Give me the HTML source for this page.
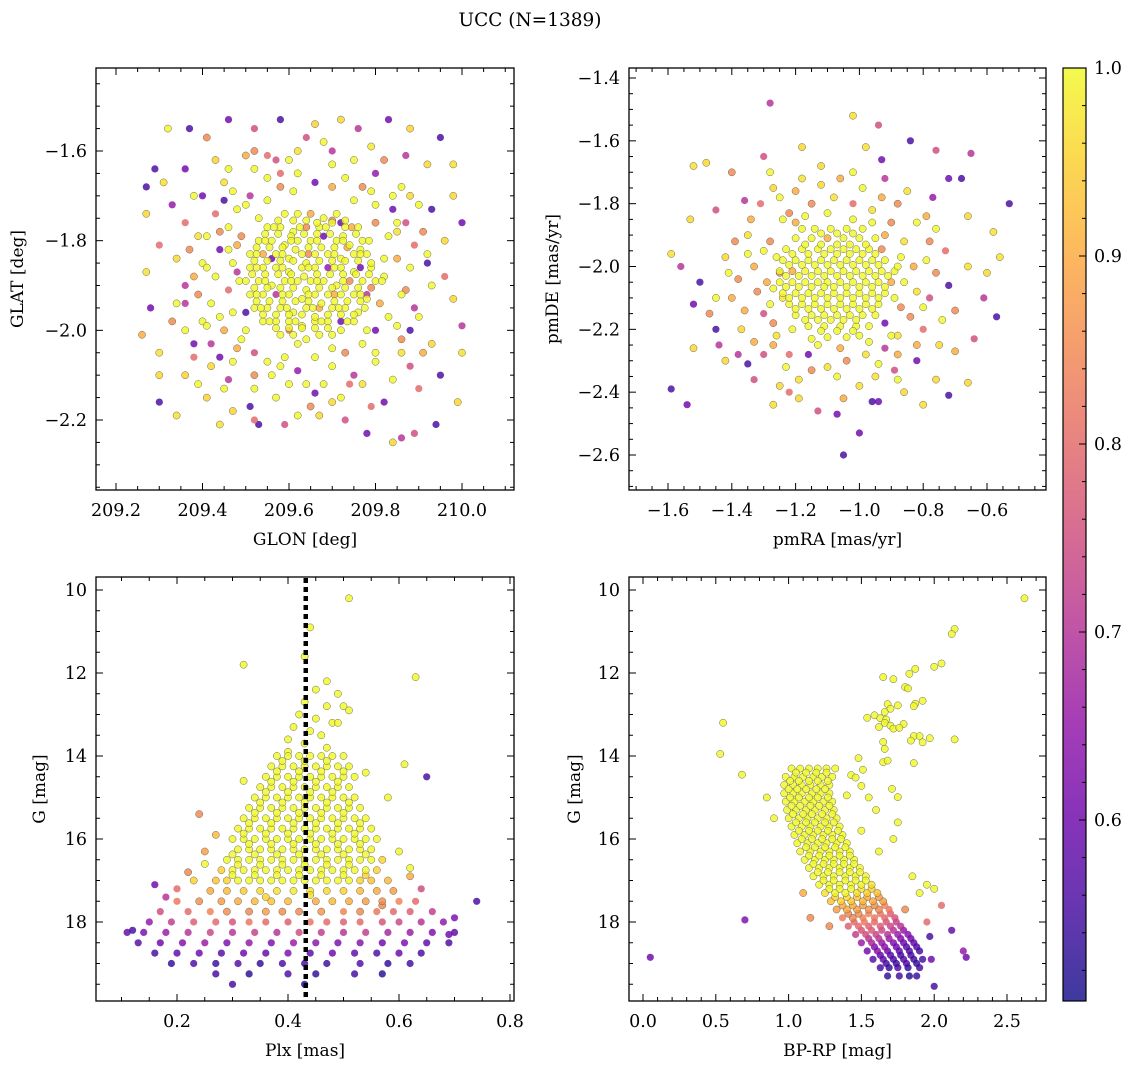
<!DOCTYPE html>
<html><head><meta charset="utf-8"><title>UCC (N=1389)</title>
<style>
html,body{margin:0;padding:0;background:#fff;}
svg{display:block;font-family:"DejaVu Serif","Liberation Serif",serif;}
</style></head>
<body>
<svg id="fig" width="1136" height="1067" viewBox="0 0 1136 1067" xmlns="http://www.w3.org/2000/svg">
<text x="530" y="26" font-size="18.5" text-anchor="middle">UCC (N=1389)</text>
</svg>
<script>
// ---------- data: [x, y, membership probability] ----------
const glonGlat = [
[209.32,-1.55,1],[209.37,-1.55,.55],[209.46,-1.53,.6],[209.52,-1.55,.75],[209.58,-1.53,.55],[209.66,-1.54,.95],[209.72,-1.53,.96],[209.76,-1.55,.7],[209.83,-1.53,.6],[209.88,-1.55,.95],[209.95,-1.57,.55],[209.41,-1.57,.85],[209.64,-1.57,.75],[209.79,-1.59,.98],
[209.29,-1.64,.55],[209.36,-1.64,.6],[209.43,-1.62,.95],[209.50,-1.61,.9],[209.55,-1.61,.8],[209.62,-1.60,.97],[209.70,-1.60,.7],[209.87,-1.61,.7],[209.92,-1.63,.96],[209.98,-1.63,.97],
[209.27,-1.68,.55],[209.31,-1.67,.97],[209.27,-1.74,.96],[209.33,-1.72,.65],[209.98,-1.70,.96],[210.0,-1.76,.6],[209.93,-1.73,.55],[209.96,-1.80,.96],
[209.27,-1.87,.97],[209.30,-1.81,.8],[209.28,-1.95,.6],[209.26,-2.01,.9],[209.30,-2.05,.97],[209.33,-1.98,.85],[209.30,-2.10,.96],[209.30,-2.16,.55],[209.34,-2.19,.97],[209.36,-2.10,.95],[209.41,-2.15,.95],[209.44,-2.21,.97],[209.47,-2.18,.95],[209.51,-2.17,.55],[209.52,-2.20,.8],[209.53,-2.21,.55],[209.59,-2.21,.75],[209.67,-2.19,.96],[209.70,-2.16,.96],[209.73,-2.20,.75],[209.78,-2.23,.6],[209.84,-2.25,.96],[209.86,-2.24,.7],[209.89,-2.23,.75],[209.94,-2.21,.55],[209.99,-2.16,.96],[209.95,-2.10,.55],[210.0,-2.05,.97],[210.0,-1.99,.7],[209.98,-1.93,.96],[209.96,-1.88,.8],[209.92,-1.85,.55],[209.93,-2.03,.96],[209.90,-2.13,.8],[209.82,-2.16,.6],[209.77,-2.12,.97],[209.38,-2.03,.6],[209.36,-1.90,.7],[209.39,-1.79,.97],[209.34,-1.84,.96],[209.40,-1.70,.6],[209.45,-1.67,.97],[209.88,-1.70,.96],[209.85,-1.78,.97],[209.89,-1.95,.7],[209.86,-2.05,.97],[209.42,-2.08,.96],[209.46,-2.11,.7],
[209.82,-1.88,1],[209.85,-1.84,.9],[209.83,-1.79,1],[209.87,-1.76,.75],[209.80,-1.72,1],[209.84,-1.70,1],[209.77,-1.68,.85],[209.73,-1.66,1],[209.70,-1.63,1],[209.66,-1.67,.6],[209.62,-1.65,1],[209.58,-1.68,.85],[209.55,-1.66,1],[209.51,-1.70,.7],[209.48,-1.73,1],[209.46,-1.77,1],[209.49,-1.79,.85],[209.44,-1.82,.6],[209.47,-1.85,1],[209.43,-1.88,1],[209.46,-1.91,.8],[209.42,-1.94,1],[209.47,-1.96,1],[209.45,-2.00,.9],[209.49,-2.02,1],[209.52,-2.05,.75],[209.55,-2.07,1],[209.59,-2.06,1],[209.62,-2.09,.65],[209.66,-2.06,1],[209.70,-2.08,1],[209.73,-2.05,.85],[209.77,-2.03,1],[209.80,-2.00,.6],[209.83,-1.97,1],[209.81,-1.94,.9],[209.86,-1.92,1],[209.88,-1.86,1],[209.89,-1.81,.8],[209.90,-1.97,1],[209.86,-2.02,.85],[209.80,-2.07,1],[209.75,-2.10,.7],[209.68,-2.12,1],[209.60,-2.12,1],[209.52,-2.10,.85],[209.47,-2.07,1],[209.42,-2.03,.7],[209.40,-1.98,1],[209.39,-1.92,.85],[209.40,-1.85,1],[209.41,-1.79,1],[209.43,-1.74,.8],[209.47,-1.69,1],[209.52,-1.64,1],[209.57,-1.62,.75],[209.75,-1.62,1],[209.80,-1.65,.65],[209.86,-1.68,1],[209.91,-1.78,.85],[209.93,-1.90,1],[209.91,-2.05,.9],[209.37,-1.82,.85],[209.36,-2.00,1],[209.38,-2.06,.8],[209.50,-1.96,.55],[209.78,-1.92,.7],[209.56,-1.84,.6],[209.72,-1.76,.6],[209.60,-2.00,.8],[209.48,-1.81,.9],[209.84,-2.11,1],[209.57,-2.15,1],[209.65,-2.17,.85],[209.45,-2.13,1],[209.38,-1.70,1],[209.52,-1.60,.85],[209.68,-1.58,1],
[209.59,-1.74,1],[209.62,-1.74,1],[209.65,-1.74,.9],[209.68,-1.75,1],[209.71,-1.74,1],
[209.55,-1.77,1],[209.58,-1.77,1],[209.61,-1.78,1],[209.64,-1.77,.85],[209.67,-1.77,1],[209.70,-1.76,1],[209.73,-1.77,1],[209.76,-1.77,1],
[209.53,-1.80,1],[209.56,-1.80,1],[209.59,-1.81,1],[209.62,-1.80,1],[209.65,-1.80,1],[209.68,-1.79,.6],[209.71,-1.80,1],[209.74,-1.81,1],[209.77,-1.80,1],
[209.51,-1.83,1],[209.54,-1.83,.9],[209.57,-1.83,1],[209.60,-1.84,1],[209.63,-1.83,1],[209.66,-1.83,1],[209.69,-1.83,1],[209.72,-1.84,1],[209.75,-1.83,1],[209.78,-1.83,1],
[209.51,-1.86,1],[209.54,-1.86,1],[209.57,-1.86,1],[209.60,-1.87,1],[209.63,-1.86,1],[209.66,-1.86,1],[209.69,-1.86,.65],[209.72,-1.86,1],[209.75,-1.87,1],[209.79,-1.86,1],
[209.50,-1.89,1],[209.53,-1.89,1],[209.56,-1.90,1],[209.59,-1.89,1],[209.62,-1.89,1],[209.65,-1.89,1],[209.68,-1.89,1],[209.71,-1.90,1],[209.74,-1.89,.85],[209.77,-1.89,1],[209.80,-1.89,1],
[209.51,-1.92,1],[209.54,-1.92,1],[209.57,-1.92,.7],[209.60,-1.92,1],[209.63,-1.93,1],[209.66,-1.92,1],[209.69,-1.92,1],[209.72,-1.92,1],[209.75,-1.92,1],[209.78,-1.93,1],
[209.52,-1.95,1],[209.55,-1.95,1],[209.58,-1.95,1],[209.61,-1.96,1],[209.64,-1.95,1],[209.67,-1.95,.9],[209.70,-1.95,1],[209.73,-1.95,1],[209.76,-1.96,1],
[209.54,-1.98,1],[209.57,-1.98,1],[209.60,-1.98,1],[209.63,-1.99,1],[209.66,-1.98,1],[209.69,-1.98,1],[209.72,-1.98,.6],[209.75,-1.98,1],
[209.58,-2.01,1],[209.61,-2.01,1],[209.64,-2.02,1],[209.67,-2.01,1],[209.70,-2.01,1],
[209.575,-1.755,1],[209.61,-1.755,1],[209.64,-1.755,1],[209.665,-1.76,1],[209.70,-1.755,.85],[209.73,-1.755,1],
[209.545,-1.785,1],[209.575,-1.785,1],[209.605,-1.79,1],[209.635,-1.785,1],[209.665,-1.785,1],[209.695,-1.785,1],[209.725,-1.79,1],[209.755,-1.785,1],
[209.525,-1.815,1],[209.555,-1.815,1],[209.585,-1.815,1],[209.615,-1.82,1],[209.645,-1.815,1],[209.675,-1.815,1],[209.705,-1.815,1],[209.735,-1.815,.9],[209.765,-1.82,1],
[209.52,-1.845,1],[209.55,-1.845,1],[209.58,-1.845,1],[209.61,-1.845,1],[209.64,-1.85,1],[209.67,-1.845,1],[209.70,-1.845,1],[209.73,-1.845,1],[209.76,-1.845,1],[209.79,-1.85,1],
[209.515,-1.875,1],[209.545,-1.875,1],[209.575,-1.875,1],[209.605,-1.875,1],[209.635,-1.88,1],[209.665,-1.875,1],[209.695,-1.875,1],[209.725,-1.875,1],[209.755,-1.875,1],[209.785,-1.875,1],
[209.52,-1.905,1],[209.55,-1.905,1],[209.58,-1.905,1],[209.61,-1.905,1],[209.64,-1.91,1],[209.67,-1.905,1],[209.70,-1.905,1],[209.73,-1.905,1],[209.76,-1.905,1],[209.79,-1.905,.85],
[209.525,-1.935,1],[209.555,-1.935,1],[209.585,-1.935,1],[209.615,-1.935,1],[209.645,-1.935,1],[209.675,-1.94,1],[209.705,-1.935,1],[209.735,-1.935,1],[209.765,-1.935,1],
[209.54,-1.965,1],[209.57,-1.965,1],[209.60,-1.965,1],[209.63,-1.965,1],[209.66,-1.97,1],[209.69,-1.965,1],[209.72,-1.965,1],[209.75,-1.965,1],
[209.57,-1.995,1],[209.60,-1.995,1],[209.63,-1.995,1],[209.66,-1.995,1],[209.69,-1.995,1],[209.72,-2.0,1]
];
const glonGlatExtra = [
[209.565,-1.77,1],[209.625,-1.77,1],[209.685,-1.77,1],[209.745,-1.77,.9],
[209.545,-1.80,1],[209.605,-1.80,1],[209.665,-1.80,1],[209.725,-1.80,1],[209.785,-1.80,1],
[209.525,-1.83,1],[209.585,-1.83,1],[209.645,-1.83,.85],[209.705,-1.83,1],[209.765,-1.83,1],
[209.525,-1.86,1],[209.585,-1.86,1],[209.645,-1.86,1],[209.705,-1.86,1],[209.765,-1.86,.6],
[209.485,-1.89,1],[209.545,-1.89,1],[209.605,-1.89,1],[209.665,-1.89,1],[209.725,-1.89,1],[209.815,-1.89,1],
[209.525,-1.92,1],[209.585,-1.92,1],[209.645,-1.92,1],[209.705,-1.92,.9],[209.765,-1.92,1],
[209.535,-1.95,1],[209.595,-1.95,1],[209.655,-1.95,1],[209.715,-1.95,1],[209.775,-1.95,1],
[209.555,-1.98,1],[209.615,-1.98,1],[209.675,-1.98,1],[209.735,-1.98,1],
[209.50,-1.72,1],[209.44,-1.78,.85],[209.41,-1.86,1],[209.44,-1.97,1],[209.48,-2.04,.9],[209.56,-2.10,1],[209.64,-2.12,1],[209.74,-2.12,.8],[209.80,-2.05,1],[209.85,-1.99,1],[209.87,-1.91,.85],[209.85,-1.76,1],[209.79,-1.69,1],[209.70,-1.68,.9],[209.61,-1.69,1],[209.53,-1.75,1],[209.48,-1.87,.7],[209.50,-2.00,1],[209.58,-2.08,1],[209.70,-2.04,1],[209.78,-2.00,1],[209.82,-1.84,1],[209.80,-1.76,.85],[209.75,-1.71,1],[209.55,-1.71,1],[209.46,-1.82,1],[209.38,-1.88,.9],[209.41,-1.99,1],[209.52,-2.13,1],[209.62,-2.03,1],[209.72,-2.15,1],[209.88,-2.08,.75],[209.92,-1.83,1],[209.90,-1.72,1],[209.82,-1.62,.85],[209.60,-1.62,1],[209.46,-1.64,1],[209.36,-1.76,.8],[209.34,-1.94,1],[209.39,-2.12,1],[209.62,-2.19,1],[209.79,-2.17,.8],
[209.45,-1.71,.55],[209.58,-1.65,.8],[209.84,-1.73,.6],[209.88,-2.00,.55],[209.66,-2.14,.6],[209.44,-2.06,.6],[209.36,-1.94,.7]
];
const pmraPmde = [
[-1.28,-1.48,.7],[-1.02,-1.52,.97],[-0.94,-1.55,.75],[-1.48,-1.67,.96],[-1.52,-1.68,.97],[-1.40,-1.70,.85],[-1.30,-1.65,.75],[-1.18,-1.62,.96],[-0.98,-1.62,.97],[-0.84,-1.60,.55],[-0.76,-1.63,.75],[-0.65,-1.64,.7],[-0.93,-1.66,.6],[-1.12,-1.68,.96],[-0.72,-1.72,.6],[-0.68,-1.72,.55],[-0.53,-1.80,.55],[-0.58,-1.89,.97],[-0.66,-1.84,.96],[-0.77,-1.78,.65],[-1.27,-1.75,.96],[-1.36,-1.79,.7],[-1.45,-1.82,.75],[-1.53,-1.85,.96],[-1.59,-1.96,.97],[-1.56,-2.00,.7],[-1.50,-2.05,.55],[-1.52,-2.12,.6],[-1.47,-2.15,.85],[-1.45,-2.20,.55],[-1.52,-2.26,.96],[-1.59,-2.39,.55],[-1.54,-2.44,.6],[-1.42,-2.30,.96],[-1.35,-2.31,.55],[-1.33,-2.36,.75],[-1.27,-2.44,.97],[-1.25,-2.38,.96],[-1.19,-2.42,.96],[-1.13,-2.46,.75],[-1.07,-2.47,.6],[-1.05,-2.60,.55],[-1.00,-2.53,.6],[-0.96,-2.43,.55],[-0.94,-2.43,.6],[-0.86,-2.40,.96],[-0.80,-2.44,.97],[-0.72,-2.41,.55],[-0.76,-2.36,.96],[-0.66,-2.37,.96],[-0.70,-2.27,.9],[-0.64,-2.23,.75],[-0.57,-2.16,.55],[-0.61,-2.10,.7],[-0.60,-2.02,.96],[-0.56,-1.97,.97],[-0.66,-2.00,.97],[-0.72,-2.06,.55],[-0.70,-2.14,.85],[-0.75,-2.25,.96],[-0.82,-2.30,.6],[-0.89,-2.33,.75],[-1.37,-2.20,.96],[-1.40,-2.10,.9],[-1.42,-1.97,.96],[-1.35,-1.90,.97],[-1.30,-2.28,.75],[-0.78,-1.92,.85],[-0.85,-1.76,.97],[-1.22,-1.83,.85],
[-1.33,-2.00,.9],[-1.32,-2.08,.85],[-1.30,-2.15,.75],[-1.28,-1.92,.85],[-1.26,-2.22,.97],[-1.22,-2.28,.8],[-1.20,-1.86,.9],[-1.15,-1.80,.85],[-1.08,-1.78,.97],[-1.02,-1.80,.8],[-0.96,-1.82,.97],[-0.90,-1.86,.85],[-0.86,-1.92,.97],[-0.83,-2.00,.9],[-0.82,-2.08,.97],[-0.84,-2.16,.85],[-0.88,-2.22,.97],[-0.92,-2.26,.7],[-0.98,-2.28,.97],[-1.04,-2.30,.85],[-1.10,-2.32,.97],[-1.16,-2.28,.6],[-1.24,-2.10,.97],[-1.25,-2.02,.85],[-0.88,-2.28,.9],[-0.80,-2.20,.8],[-0.93,-1.78,.9],[-1.12,-1.74,.96],[-1.27,-2.25,.9],[-1.19,-2.36,.97],[-0.95,-2.35,.97],[-0.78,-2.10,.75],[-1.34,-1.85,.9],[-1.18,-1.72,.97],[-1.00,-2.38,.97],[-0.92,-2.18,.6],[-1.38,-2.04,.85],[-1.36,-2.14,.9],[-0.79,-1.84,.9],[-0.76,-2.02,.85],[-1.06,-1.72,.9],[-1.44,-2.25,.7],
[-1.14,-1.88,1],[-1.09,-1.88,1],[-1.04,-1.88,1],[-0.99,-1.88,1],
[-1.20,-1.91,1],[-1.15,-1.91,1],[-1.10,-1.91,.9],[-1.05,-1.91,1],[-1.00,-1.91,1],[-0.95,-1.91,1],
[-1.23,-1.945,1],[-1.18,-1.945,1],[-1.13,-1.945,1],[-1.09,-1.945,1],[-1.05,-1.945,1],[-1.01,-1.945,1],[-0.97,-1.945,1],[-0.93,-1.945,.85],
[-1.24,-1.98,1],[-1.20,-1.98,1],[-1.16,-1.98,1],[-1.12,-1.98,1],[-1.08,-1.98,1],[-1.04,-1.98,1],[-1.00,-1.98,1],[-0.96,-1.98,1],[-0.92,-1.98,1],
[-1.25,-2.015,1],[-1.21,-2.015,.9],[-1.17,-2.015,1],[-1.13,-2.015,1],[-1.09,-2.015,1],[-1.05,-2.015,1],[-1.01,-2.015,1],[-0.97,-2.015,1],[-0.93,-2.015,1],[-0.89,-2.015,1],
[-1.25,-2.05,1],[-1.21,-2.05,1],[-1.17,-2.05,1],[-1.13,-2.05,1],[-1.10,-2.05,1],[-1.06,-2.05,1],[-1.02,-2.05,1],[-0.98,-2.05,1],[-0.94,-2.05,1],[-0.90,-2.05,.9],
[-1.24,-2.085,1],[-1.20,-2.085,1],[-1.16,-2.085,1],[-1.12,-2.085,1],[-1.08,-2.085,1],[-1.04,-2.085,1],[-1.00,-2.085,1],[-0.96,-2.085,1],[-0.92,-2.085,1],
[-1.22,-2.12,1],[-1.18,-2.12,1],[-1.14,-2.12,1],[-1.10,-2.12,1],[-1.06,-2.12,1],[-1.02,-2.12,1],[-0.98,-2.12,1],[-0.94,-2.12,1],
[-1.20,-2.155,1],[-1.15,-2.155,1],[-1.11,-2.155,1],[-1.07,-2.155,1],[-1.03,-2.155,1],[-0.99,-2.155,1],[-0.95,-2.155,1],
[-1.16,-2.19,1],[-1.11,-2.19,1],[-1.06,-2.19,1],[-1.01,-2.19,1],[-0.97,-2.19,1],
[-1.10,-2.225,1],[-1.04,-2.225,1],
[-1.12,-1.895,1],[-1.07,-1.895,1],[-1.02,-1.895,1],
[-1.17,-1.93,1],[-1.12,-1.93,1],[-1.07,-1.93,1],[-1.03,-1.93,1],[-0.98,-1.93,1],
[-1.21,-1.96,1],[-1.16,-1.96,1],[-1.11,-1.96,1],[-1.07,-1.96,1],[-1.03,-1.96,1],[-0.99,-1.96,1],[-0.95,-1.96,1],
[-1.22,-1.995,1],[-1.18,-1.995,1],[-1.14,-1.995,1],[-1.10,-1.995,1],[-1.06,-1.995,1],[-1.02,-1.995,1],[-0.98,-1.995,1],[-0.94,-1.995,1],
[-1.23,-2.03,1],[-1.19,-2.03,1],[-1.15,-2.03,1],[-1.11,-2.03,1],[-1.07,-2.03,1],[-1.03,-2.03,1],[-0.99,-2.03,1],[-0.95,-2.03,1],[-0.91,-2.03,1],
[-1.23,-2.065,1],[-1.19,-2.065,1],[-1.15,-2.065,1],[-1.11,-2.065,1],[-1.08,-2.065,1],[-1.04,-2.065,1],[-1.00,-2.065,1],[-0.96,-2.065,1],[-0.92,-2.065,1],
[-1.22,-2.10,1],[-1.18,-2.10,1],[-1.14,-2.10,1],[-1.10,-2.10,1],[-1.06,-2.10,1],[-1.02,-2.10,1],[-0.98,-2.10,1],[-0.94,-2.10,1],
[-1.20,-2.135,1],[-1.16,-2.135,1],[-1.12,-2.135,1],[-1.08,-2.135,1],[-1.04,-2.135,1],[-1.00,-2.135,1],[-0.96,-2.135,1],
[-1.17,-2.17,1],[-1.13,-2.17,1],[-1.09,-2.17,1],[-1.05,-2.17,1],[-1.01,-2.17,1],
[-1.12,-2.205,1],[-1.07,-2.205,1],[-1.02,-2.205,1]
];
const pmraPmdeExtra = [
[-1.30,-1.95,1],[-1.29,-2.05,.9],[-1.28,-2.12,1],[-1.24,-1.85,1],[-1.17,-1.84,1],[-1.02,-1.85,1],[-0.92,-1.90,.9],[-0.87,-1.97,1],[-0.86,-2.05,1],[-0.87,-2.13,.85],[-0.90,-2.22,1],[-0.97,-2.24,1],[-1.06,-2.26,.9],[-1.13,-2.25,1],[-1.21,-2.20,1],[-1.27,-2.18,.85],[-1.35,-1.96,1],[-1.31,-1.80,.8],[-1.25,-1.78,1],[-1.10,-1.83,1],[-0.99,-1.75,1],[-0.88,-1.80,.85],[-0.82,-1.86,1],[-0.79,-1.98,1],[-0.80,-2.13,1],[-0.82,-2.25,.9],[-0.94,-2.31,1],[-1.07,-2.35,1],[-1.15,-2.33,.85],[-1.23,-2.32,1],[-1.33,-2.24,.9],[-1.41,-2.02,1],[-1.39,-1.92,.85],[-1.45,-2.10,1],[-1.38,-2.28,.7],[-0.74,-2.17,1],[-0.73,-1.95,.8],[-0.76,-1.88,1],[-1.20,-1.76,.9],[-1.02,-1.70,1],[-0.92,-1.72,.7],[-1.28,-1.70,1],[-1.05,-2.42,.9],[-0.88,-2.36,1],[-1.22,-2.40,.8],
[-1.26,-1.97,1],[-1.27,-2.07,1],[-0.88,-2.00,1],[-0.89,-2.10,1],[-1.18,-1.88,1],[-0.96,-1.86,1],[-1.15,-2.23,1],[-1.00,-2.22,1]
];
const plxG = [
[.51,10.2,1],[.44,10.9,1],[.43,11.6,1],[.32,11.8,1],[.63,12.1,1],[.47,12.2,1],[.45,12.4,1],[.49,12.5,1],[.43,12.7,1],[.47,12.8,1],[.50,12.8,1],[.42,13.0,1],[.45,13.1,1],[.48,13.2,1],[.41,13.3,1],[.44,13.4,1],[.46,13.5,1],[.40,13.6,1],[.43,13.7,1],[.47,13.8,1],[.40,13.9,1],[.49,13.2,1],[.51,12.9,1],[.65,14.5,.55],[.61,14.2,1],[.54,14.4,1],[.32,14.6,1],[.24,15.4,.85],[.58,15.0,1],[.60,16.3,1],[.62,16.7,1],[.25,16.6,1],[.23,17.0,.95],
[.38,14.0,1],[.40,14.0,1],[.42,14.0,1],[.44,14.0,1],[.46,14.0,1],[.48,14.0,1],[.50,14.0,1],
[.37,14.25,1],[.39,14.25,1],[.41,14.25,1],[.43,14.25,1],[.45,14.25,1],[.47,14.25,1],[.49,14.25,1],[.51,14.25,1],
[.36,14.5,1],[.38,14.5,1],[.40,14.5,1],[.42,14.5,1],[.44,14.5,1],[.46,14.5,1],[.48,14.5,1],[.50,14.5,1],[.52,14.5,1],
[.35,14.75,1],[.37,14.75,1],[.39,14.75,1],[.41,14.75,1],[.43,14.75,1],[.45,14.75,1],[.47,14.75,1],[.49,14.75,1],[.51,14.75,1],
[.34,15.0,1],[.36,15.0,1],[.38,15.0,1],[.40,15.0,1],[.42,15.0,1],[.44,15.0,1],[.46,15.0,1],[.48,15.0,1],[.50,15.0,1],[.52,15.0,1],
[.33,15.25,1],[.35,15.25,1],[.37,15.25,1],[.39,15.25,1],[.41,15.25,1],[.43,15.25,1],[.45,15.25,1],[.47,15.25,1],[.49,15.25,1],[.51,15.25,1],[.53,15.25,1],
[.32,15.5,1],[.34,15.5,1],[.36,15.5,1],[.38,15.5,1],[.40,15.5,1],[.42,15.5,1],[.44,15.5,1],[.46,15.5,1],[.48,15.5,1],[.50,15.5,1],[.52,15.5,1],[.54,15.5,1],
[.31,15.75,1],[.33,15.75,1],[.35,15.75,1],[.37,15.75,1],[.39,15.75,1],[.41,15.75,1],[.43,15.75,1],[.45,15.75,1],[.47,15.75,1],[.49,15.75,1],[.51,15.75,1],[.53,15.75,1],[.55,15.75,1],
[.30,16.0,1],[.32,16.0,1],[.34,16.0,1],[.36,16.0,1],[.38,16.0,1],[.40,16.0,1],[.42,16.0,1],[.44,16.0,1],[.46,16.0,1],[.48,16.0,1],[.50,16.0,1],[.52,16.0,1],[.54,16.0,1],[.56,16.0,1],
[.31,16.25,1],[.33,16.25,1],[.35,16.25,1],[.37,16.25,1],[.39,16.25,1],[.41,16.25,1],[.43,16.25,1],[.45,16.25,1],[.47,16.25,1],[.49,16.25,1],[.51,16.25,1],[.53,16.25,1],[.55,16.25,1],
[.29,16.5,1],[.31,16.5,1],[.33,16.5,1],[.35,16.5,1],[.37,16.5,1],[.39,16.5,1],[.41,16.5,1],[.43,16.5,1],[.45,16.5,1],[.47,16.5,1],[.49,16.5,1],[.51,16.5,1],[.53,16.5,1],[.55,16.5,1],[.57,16.5,.95],
[.28,16.75,.95],[.30,16.75,1],[.32,16.75,1],[.34,16.75,1],[.36,16.75,1],[.38,16.75,1],[.40,16.75,1],[.42,16.75,1],[.44,16.75,1],[.46,16.75,1],[.48,16.75,1],[.50,16.75,1],[.52,16.75,1],[.54,16.75,1],[.56,16.75,.95],
[.27,17.0,.93],[.29,17.0,.95],[.31,17.0,1],[.33,17.0,1],[.35,17.0,1],[.37,17.0,1],[.39,17.0,1],[.41,17.0,1],[.43,17.0,1],[.45,17.0,1],[.47,17.0,1],[.49,17.0,1],[.51,17.0,1],[.53,17.0,.95],[.55,17.0,.93],[.58,17.0,.92],
[.26,17.25,.9],[.29,17.25,.92],[.32,17.25,.94],[.35,17.25,.96],[.38,17.25,.97],[.41,17.25,.98],[.44,17.25,.97],[.47,17.25,.96],[.50,17.25,.95],[.53,17.25,.92],[.56,17.25,.9],[.59,17.25,.88],
[.20,17.5,.82],[.24,17.5,.86],[.28,17.5,.88],[.31,17.5,.9],[.34,17.5,.92],[.37,17.5,.93],[.40,17.5,.92],[.45,17.5,.9],[.48,17.5,.92],[.51,17.5,.9],[.54,17.5,.88],[.57,17.5,.86],[.60,17.5,.84],[.63,17.5,.8],
[.17,17.75,.75],[.22,17.75,.8],[.26,17.75,.84],[.29,17.75,.86],[.33,17.75,.85],[.36,17.75,.88],[.39,17.75,.86],[.42,17.75,.85],[.46,17.75,.87],[.50,17.75,.84],[.53,17.75,.85],[.56,17.75,.82],[.59,17.75,.8],[.62,17.75,.78],[.66,17.75,.72],
[.15,18.0,.65],[.19,18.0,.72],[.23,18.0,.78],[.27,18.0,.8],[.30,18.0,.76],[.33,18.0,.82],[.36,18.0,.8],[.40,18.0,.78],[.44,18.0,.82],[.47,18.0,.8],[.50,18.0,.78],[.53,18.0,.8],[.57,18.0,.76],[.60,18.0,.74],[.64,18.0,.7],[.68,18.0,.65],
[.11,18.25,.58],[.14,18.25,.62],[.18,18.25,.66],[.22,18.25,.7],[.26,18.25,.74],[.30,18.25,.7],[.34,18.25,.73],[.38,18.25,.7],[.42,18.25,.75],[.46,18.25,.72],[.50,18.25,.7],[.54,18.25,.72],[.58,18.25,.68],[.62,18.25,.66],[.66,18.25,.62],[.70,18.25,.58],
[.13,18.5,.57],[.17,18.5,.6],[.21,18.5,.63],[.25,18.5,.66],[.29,18.5,.62],[.33,18.5,.65],[.37,18.5,.62],[.41,18.5,.66],[.45,18.5,.64],[.49,18.5,.62],[.53,18.5,.63],[.57,18.5,.6],[.61,18.5,.62],[.65,18.5,.58],[.69,18.5,.56],
[.16,18.75,.55],[.20,18.75,.58],[.24,18.75,.6],[.28,18.75,.57],[.32,18.75,.6],[.36,18.75,.58],[.40,18.75,.62],[.44,18.75,.57],[.48,18.75,.6],[.52,18.75,.58],[.56,18.75,.56],[.60,18.75,.59],[.64,18.75,.55],
[.19,19.0,.53],[.23,19.0,.56],[.27,19.0,.54],[.31,19.0,.57],[.35,19.0,.53],[.39,19.0,.56],[.43,19.0,.55],[.47,19.0,.54],[.53,19.0,.57],[.58,19.0,.53],[.62,19.0,.55],
[.27,19.25,.55],[.33,19.25,.52],[.40,19.25,.56],[.45,19.25,.53],[.52,19.25,.55],[.57,19.25,.52],
[.30,19.5,.55],[.43,19.5,.52],
[.74,17.5,.55],[.69,18.3,.6],[.12,18.2,.55],[.16,17.1,.6],[.70,17.9,.62],[.18,17.4,.7],[.64,17.2,.75]
];
const plxGExtra = [
[.39,14.12,1],[.43,14.12,1],[.47,14.12,1],[.38,14.37,1],[.42,14.37,1],[.46,14.37,1],[.50,14.37,1],[.37,14.62,1],[.41,14.62,1],[.45,14.62,1],[.49,14.62,1],
[.36,14.87,1],[.40,14.87,1],[.44,14.87,1],[.48,14.87,1],[.35,15.12,1],[.39,15.12,1],[.43,15.12,1],[.47,15.12,1],[.51,15.12,1],
[.34,15.37,1],[.38,15.37,1],[.42,15.37,1],[.46,15.37,1],[.50,15.37,1],[.33,15.62,1],[.37,15.62,1],[.41,15.62,1],[.45,15.62,1],[.49,15.62,1],[.53,15.62,1],
[.32,15.87,1],[.36,15.87,1],[.40,15.87,1],[.44,15.87,1],[.48,15.87,1],[.52,15.87,1],[.33,16.12,1],[.37,16.12,1],[.41,16.12,1],[.45,16.12,1],[.49,16.12,1],[.53,16.12,1],
[.30,16.37,1],[.34,16.37,1],[.38,16.37,1],[.42,16.37,1],[.46,16.37,1],[.50,16.37,1],[.54,16.37,1],[.31,16.62,1],[.35,16.62,1],[.39,16.62,1],[.43,16.62,1],[.47,16.62,1],[.51,16.62,1],
[.30,16.87,1],[.34,16.87,1],[.38,16.87,1],[.42,16.87,1],[.46,16.87,1],[.50,16.87,1],[.54,16.87,.95],
[.25,16.3,.88],[.22,16.8,.85],[.27,15.9,.92],[.20,17.2,.8],[.57,17.6,.85],[.62,16.9,.9],[.44,17.35,.97],[.36,17.4,.95]
];
const bprpG = [
[2.62,10.2,1],[2.14,10.94,1],[2.12,11.06,1],[2.00,11.85,1],[2.05,11.77,1],[1.65,12.1,1],[1.72,12.15,1],[1.83,12.02,1],[1.87,11.9,1],[1.80,12.34,1],[1.82,12.37,1],
[1.68,12.75,1],[1.75,12.78,1],[1.87,12.74,1],[1.92,12.67,1],[1.86,12.8,1],
[1.54,13.08,1],[1.59,13.02,1],[1.63,13.09,1],[1.67,13.12,1],[1.66,13.2,1],[1.70,13.27,1],[1.62,13.3,1],[1.72,13.34,1],[1.79,13.23,1],[1.76,13.32,1],[1.66,12.94,1],[1.70,12.86,1],
[1.86,13.52,1],[1.90,13.52,1],[1.84,13.63,1],[1.92,13.67,1],[1.97,13.57,1],[2.14,13.6,1],[1.65,13.66,1],[1.66,13.83,1],
[1.48,14.05,1],[1.51,14.33,1],[1.65,14.15,1],[1.68,14.11,1],[1.86,14.17,1],[1.43,14.46,1],[1.46,14.52,1],[1.50,14.72,1],[1.71,14.79,1],[1.75,14.99,1],[1.40,14.95,1],
[0.55,13.2,1],[0.53,13.95,1],[0.68,14.45,1],[0.85,15.0,1],[0.90,15.5,1],[1.55,15.0,1],[1.60,15.3,1],[1.75,15.6,1],[1.62,16.3,1],[1.85,16.9,1],[1.95,17.1,1],[1.90,17.3,1],[1.72,16.0,1],[1.50,15.8,1],
[1.80,17.7,.85],[2.00,17.2,1],[2.05,17.6,.8],[2.20,18.7,.65],[2.22,18.85,.6],[2.12,18.2,.58],[0.05,18.85,.6],[0.70,17.95,.62],[1.97,18.35,.55],[1.98,18.9,.6],[2.00,19.55,.55],[1.10,17.3,.9],[1.15,17.9,.85],[1.28,18.1,.85],[1.95,18.0,.8],
[1.02,14.3,1],[1.08,14.3,1],[1.14,14.3,1],[1.20,14.3,1],[1.26,14.3,1],[1.32,14.3,1],
[0.98,14.5,1],[1.04,14.5,1],[1.10,14.5,1],[1.17,14.5,1],[1.23,14.5,1],[1.30,14.5,1],
[0.97,14.7,1],[1.03,14.7,1],[1.09,14.7,1],[1.15,14.7,1],[1.22,14.7,1],[1.28,14.7,1],
[0.97,14.9,1],[1.03,14.9,1],[1.09,14.9,1],[1.16,14.9,1],[1.22,14.9,1],[1.28,14.9,1],
[0.98,15.1,1],[1.04,15.1,1],[1.11,15.1,1],[1.17,15.1,1],[1.24,15.1,1],[1.30,15.1,1],
[0.99,15.3,1],[1.05,15.3,1],[1.12,15.3,1],[1.18,15.3,1],[1.25,15.3,1],[1.31,15.3,1],
[1.00,15.5,1],[1.07,15.5,1],[1.13,15.5,1],[1.20,15.5,1],[1.26,15.5,1],[1.33,15.5,1],
[1.02,15.7,1],[1.09,15.7,1],[1.15,15.7,1],[1.22,15.7,1],[1.28,15.7,1],[1.35,15.7,1],
[1.04,15.9,1],[1.11,15.9,1],[1.17,15.9,1],[1.24,15.9,1],[1.30,15.9,1],[1.37,15.9,1],
[1.06,16.1,1],[1.13,16.1,1],[1.20,16.1,1],[1.26,16.1,1],[1.33,16.1,1],[1.40,16.1,1],
[1.08,16.3,1],[1.15,16.3,1],[1.22,16.3,1],[1.28,16.3,1],[1.35,16.3,1],[1.42,16.3,1],
[1.11,16.5,1],[1.18,16.5,1],[1.25,16.5,1],[1.31,16.5,1],[1.38,16.5,1],[1.45,16.5,1],
[1.14,16.7,1],[1.21,16.7,1],[1.28,16.7,1],[1.35,16.7,1],[1.42,16.7,1],[1.49,16.7,1],
[1.17,16.9,1],[1.24,16.9,1],[1.31,16.9,1],[1.39,16.9,1],[1.46,16.9,1],[1.53,16.9,1],
[1.21,17.1,1],[1.28,17.1,1],[1.35,17.1,1],[1.43,17.1,1],[1.50,17.1,1],[1.57,17.1,.97],
[1.25,17.3,.97],[1.32,17.3,1],[1.39,17.3,1],[1.47,17.3,.97],[1.54,17.3,.95],[1.61,17.3,.93],
[1.29,17.5,.93],[1.36,17.5,.95],[1.43,17.5,.94],[1.51,17.5,.92],[1.58,17.5,.9],[1.65,17.5,.88],
[1.33,17.7,.88],[1.40,17.7,.9],[1.47,17.7,.88],[1.55,17.7,.87],[1.62,17.7,.85],[1.69,17.7,.82],
[1.37,17.9,.83],[1.44,17.9,.85],[1.51,17.9,.84],[1.59,17.9,.82],[1.66,17.9,.8],[1.73,17.9,.76],
[1.41,18.1,.78],[1.48,18.1,.8],[1.55,18.1,.79],[1.63,18.1,.77],[1.70,18.1,.74],[1.77,18.1,.7],
[1.46,18.3,.72],[1.53,18.3,.75],[1.60,18.3,.73],[1.68,18.3,.7],[1.75,18.3,.66],[1.82,18.3,.63],
[1.50,18.5,.66],[1.57,18.5,.68],[1.64,18.5,.65],[1.72,18.5,.62],[1.79,18.5,.6],[1.86,18.5,.58],
[1.54,18.7,.6],[1.61,18.7,.63],[1.68,18.7,.6],[1.76,18.7,.58],[1.83,18.7,.56],[1.90,18.7,.55],
[1.58,18.9,.57],[1.65,18.9,.58],[1.72,18.9,.55],[1.79,18.9,.57],[1.86,18.9,.54],[1.92,18.9,.55],
[1.63,19.1,.55],[1.69,19.1,.53],[1.75,19.1,.56],[1.82,19.1,.53],[1.90,19.1,.55],
[1.68,19.3,.53],[1.76,19.3,.55],[1.83,19.3,.52],[1.88,19.3,.54]
];
const bprpGExtra = [
[1.05,14.4,1],[1.12,14.4,1],[1.19,14.4,1],[1.26,14.4,1],[1.01,14.6,1],[1.07,14.6,1],[1.14,14.6,1],[1.20,14.6,1],[1.27,14.6,1],
[1.00,14.8,1],[1.06,14.8,1],[1.12,14.8,1],[1.19,14.8,1],[1.25,14.8,1],[1.01,15.0,1],[1.07,15.0,1],[1.14,15.0,1],[1.20,15.0,1],[1.27,15.0,1],
[1.02,15.2,1],[1.08,15.2,1],[1.15,15.2,1],[1.21,15.2,1],[1.28,15.2,1],[1.03,15.4,1],[1.10,15.4,1],[1.16,15.4,1],[1.23,15.4,1],[1.30,15.4,1],
[1.05,15.6,1],[1.12,15.6,1],[1.18,15.6,1],[1.25,15.6,1],[1.31,15.6,1],[1.07,15.8,1],[1.14,15.8,1],[1.20,15.8,1],[1.27,15.8,1],[1.34,15.8,1],
[1.09,16.0,1],[1.16,16.0,1],[1.23,16.0,1],[1.30,16.0,1],[1.36,16.0,1],[1.12,16.2,1],[1.18,16.2,1],[1.25,16.2,1],[1.32,16.2,1],[1.39,16.2,1],
[1.14,16.4,1],[1.21,16.4,1],[1.28,16.4,1],[1.35,16.4,1],[1.42,16.4,1],[1.17,16.6,1],[1.24,16.6,1],[1.31,16.6,1],[1.38,16.6,1],[1.45,16.6,1],
[1.20,16.8,1],[1.27,16.8,1],[1.35,16.8,1],[1.42,16.8,1],[1.49,16.8,1],[1.24,17.0,1],[1.31,17.0,1],[1.39,17.0,1],[1.46,17.0,1],[1.53,17.0,1],
[1.28,17.2,1],[1.35,17.2,1],[1.43,17.2,1],[1.50,17.2,.97],[1.57,17.2,.95],[1.32,17.4,.95],[1.40,17.4,.96],[1.47,17.4,.93],[1.54,17.4,.9],[1.62,17.4,.88],
[1.37,17.6,.9],[1.44,17.6,.9],[1.51,17.6,.88],[1.59,17.6,.86],[1.66,17.6,.84],[1.41,17.8,.85],[1.48,17.8,.86],[1.55,17.8,.84],[1.63,17.8,.82],[1.70,17.8,.78],
[1.45,18.0,.8],[1.52,18.0,.82],[1.59,18.0,.8],[1.67,18.0,.76],[1.74,18.0,.72],[1.50,18.2,.76],[1.57,18.2,.77],[1.64,18.2,.74],[1.72,18.2,.7],[1.79,18.2,.65],
[1.55,18.4,.7],[1.62,18.4,.7],[1.69,18.4,.66],[1.77,18.4,.62],[1.84,18.4,.6],[1.59,18.6,.62],[1.66,18.6,.64],[1.74,18.6,.6],[1.81,18.6,.57],[1.88,18.6,.56],
[1.63,18.8,.58],[1.70,18.8,.57],[1.77,18.8,.55],[1.84,18.8,.56],[1.67,19.0,.55],[1.74,19.0,.54],[1.81,19.0,.56],[1.88,19.0,.53]
];
const cbTicks = [0.6, 0.7, 0.8, 0.9, 1.0];
const cbTickLabels = ["0.6", "0.7", "0.8", "0.9", "1.0"];

// ---------- rendering ----------
const NS = "http://www.w3.org/2000/svg";
const svg = document.getElementById("fig");
function el(tag, attrs, parent) {
  const e = document.createElementNS(NS, tag);
  for (const k in attrs) e.setAttribute(k, attrs[k]);
  (parent || svg).appendChild(e);
  return e;
}
const plasmaStops = ["#0d0887","#41049d","#6a00a8","#8f0da4","#b12a90","#cc4778","#e16462","#f2844b","#fca636","#fcce25","#f0f921"];
function hex(h){return [parseInt(h.substr(1,2),16),parseInt(h.substr(3,2),16),parseInt(h.substr(5,2),16)];}
function plasma(t){
  t = Math.max(0, Math.min(1, t));
  const f = t * 10, i = Math.min(9, Math.floor(f)), r = f - i;
  const a = hex(plasmaStops[i]), b = hex(plasmaStops[i+1]);
  return "rgb(" + a.map((v,k)=>Math.round(v + (b[k]-v)*r)).join(",") + ")";
}
const CMIN = 0.503, CMAX = 1.0;
const norm = c => (c - CMIN) / (CMAX - CMIN);

function linear(v0, p0, v1, p1){ const k=(p1-p0)/(v1-v0); const f=v=>p0+(v-v0)*k; f.inv=p=>v0+(p-p0)/k; return f; }
function fmt(v, dec){ let s = Math.abs(v).toFixed(dec); return (v < -1e-9 ? "\u2212" : "") + s; }

function panel(cfg){
  const {name, box, sx, sy, xMaj, xMin, yMaj, yMin, xDec, yDec, data, xlabel, ylabel, ylabelX} = cfg;
  const g = el("g", {});
  
  
  const [x0, y0, x1, y1] = box;
  const pts = el("g", {}, g);
  
  
  const sorted = data.slice().sort((a,b)=>a[2]-b[2]);
  for (const d of sorted){
    const cx = sx(d[0]), cy = sy(d[1]);
    if (cx < x0 || cx > x1 || cy < y0 || cy > y1) continue;
    const c = el("circle", {cx:cx.toFixed(1), cy:cy.toFixed(1), r:3.6, fill:plasma(norm(d[2])), "fill-opacity":0.8}, pts);
    if (d[2] >= 0.85) { c.setAttribute("stroke", "#6b6b55"); c.setAttribute("stroke-width", "0.5"); }
    
    
  }
  if (cfg.extra) cfg.extra(g);
  const fr = el("rect", {x:x0, y:y0, width:x1-x0, height:y1-y0, fill:"none", stroke:"#000", "stroke-width":1.3}, g);
  
  
  const tk = el("g", {stroke:"#000", "stroke-width":1}, g);
  const xlo = sx.inv(x0), xhi = sx.inv(x1), ylo = sy.inv(y1), yhi = sy.inv(y0);
  const xa = Math.min(xlo,xhi), xb = Math.max(xlo,xhi), ya = Math.min(ylo,yhi), yb = Math.max(ylo,yhi);
  for (let v = Math.ceil(xa/xMin - 1e-6)*xMin; v <= xb + 1e-9; v += xMin){
    const isMaj = Math.abs(v/xMaj - Math.round(v/xMaj)) < 1e-4;
    const L = isMaj ? 7 : 4, p = sx(v);
    el("line", {x1:p, x2:p, y1:y1, y2:y1-L}, tk);
    el("line", {x1:p, x2:p, y1:y0, y2:y0+L}, tk);
    if (isMaj){
      const t = el("text", {x:p, y:y1+26, "font-size":17.5, "text-anchor":"middle", fill:"#000"}, g);
      t.textContent = fmt(Math.round(v/xMaj)*xMaj, xDec);
      
      
    }
  }
  for (let v = Math.ceil(ya/yMin - 1e-6)*yMin; v <= yb + 1e-9; v += yMin){
    const isMaj = Math.abs(v/yMaj - Math.round(v/yMaj)) < 1e-4;
    const L = isMaj ? 7 : 4, p = sy(v);
    el("line", {x1:x0, x2:x0+L, y1:p, y2:p}, tk);
    el("line", {x1:x1, x2:x1-L, y1:p, y2:p}, tk);
    if (isMaj){
      const t = el("text", {x:x0-9, y:p+6, "font-size":17.5, "text-anchor":"end", fill:"#000"}, g);
      t.textContent = fmt(Math.round(v/yMaj)*yMaj, yDec);
      
      
    }
  }
  const xl = el("text", {x:(x0+x1)/2, y:y1+55, "font-size":17, "text-anchor":"middle"}, g);
  xl.textContent = xlabel;
  
  
  const yc = (y0+y1)/2;
  const yl = el("text", {x:ylabelX, y:yc, "font-size":17, "text-anchor":"middle", transform:"rotate(-90 "+ylabelX+" "+yc+")"}, g);
  yl.textContent = ylabel;
  
  
}

panel({name:"glon-glat-panel", box:[96,68,514,490],
  sx: linear(209.2,116,210.0,462), sy: linear(-1.6,151,-2.2,420),
  xMaj:0.2, xMin:0.05, yMaj:0.2, yMin:0.05, xDec:1, yDec:1,
  data: glonGlat.concat(glonGlatExtra), xlabel:"GLON [deg]", ylabel:"GLAT [deg]", ylabelX:23});

panel({name:"pm-panel", box:[629,68,1046,490],
  sx: linear(-1.6,668,-0.6,987), sy: linear(-1.4,78,-2.6,455),
  xMaj:0.2, xMin:0.05, yMaj:0.2, yMin:0.05, xDec:1, yDec:1,
  data: pmraPmde.concat(pmraPmdeExtra), xlabel:"pmRA [mas/yr]", ylabel:"pmDE [mas/yr]", ylabelX:558});

const plxLine = 0.432;
const sxPlx = linear(0.2,177,0.8,510);
panel({name:"plx-g-panel", box:[96,577,514,1001],
  sx: sxPlx, sy: linear(10,590,18,922),
  xMaj:0.2, xMin:0.05, yMaj:2, yMin:0.5, xDec:1, yDec:0,
  data: plxG.concat(plxGExtra), xlabel:"Plx [mas]", ylabel:"G [mag]", ylabelX:45,
  extra: g => {
    const l = el("line", {x1:sxPlx(plxLine), x2:sxPlx(plxLine), y1:578, y2:1000, stroke:"#000", "stroke-width":4.5, "stroke-dasharray":"5 4"}, g);
    
    
  }});

panel({name:"cmd-panel", box:[629,577,1046,1001],
  sx: linear(0,643,2.5,1007), sy: linear(10,590,18,922),
  xMaj:0.5, xMin:0.1, yMaj:2, yMin:0.5, xDec:1, yDec:0,
  data: bprpG.concat(bprpGExtra), xlabel:"BP-RP [mag]", ylabel:"G [mag]", ylabelX:580});

(function(){
  const cx0 = 1063, cx1 = 1086, cy0 = 68, cy1 = 1001;
  const cy = linear(1.0, 68, 0.7, 632);
  const g = el("g", {});
  
  
  const defs = el("defs", {}, g);
  const grad = el("linearGradient", {id:"cbg", x1:0, y1:1, x2:0, y2:0}, defs);
  for (let i = 0; i <= 20; i++){
    el("stop", {offset:(i/20), "stop-color":plasma(i/20), "stop-opacity":0.8}, grad);
  }
  el("rect", {x:cx0, y:cy0, width:cx1-cx0, height:cy1-cy0, fill:"url(#cbg)", stroke:"#000", "stroke-width":1.2}, g);
  for (let v = 0.52; v <= 1.0001; v += 0.02){
    const maj = Math.abs(v*10 - Math.round(v*10)) < 1e-4;
    const p = cy(v);
    el("line", {x1:cx1, x2:cx1-(maj?7:4), y1:p, y2:p, stroke:"#000", "stroke-width":1}, g);
  }
  cbTicks.forEach((v, i) => {
    const t = el("text", {x:1094, y:cy(v)+6, "font-size":17.5}, g);
    t.textContent = cbTickLabels[i];
    
    
  });
})();
</script>
</body></html>
